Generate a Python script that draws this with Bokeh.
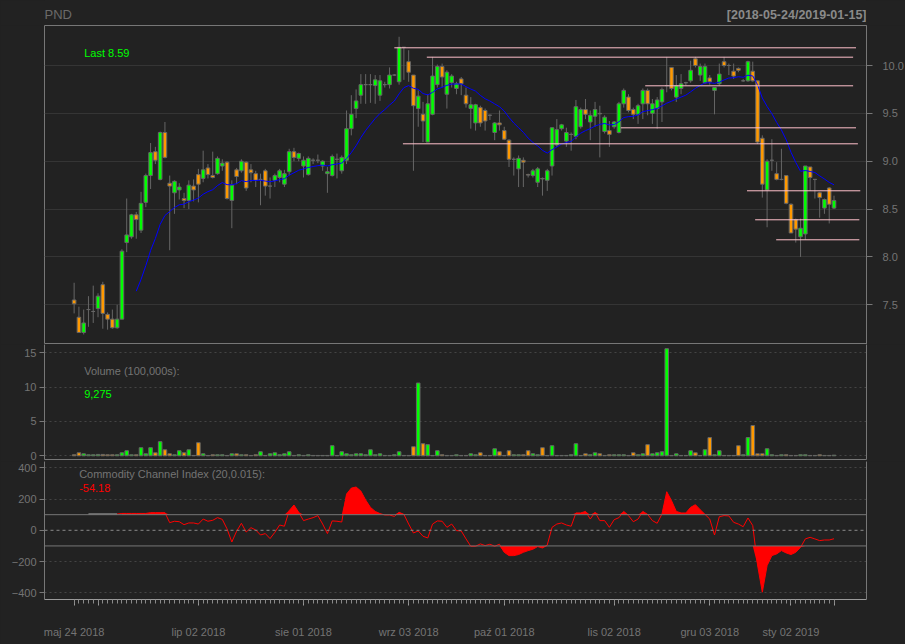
import numpy as np
from bokeh.plotting import figure
from bokeh.layouts import column
from bokeh.models import (Range1d, FixedTicker, Label, Span, LinearAxis,
                          PrintfTickFormatter, GlobalInlineStyleSheet)
from bokeh.embed import file_html
from bokeh.resources import INLINE

symbol = "PND"
date_range = "[2018-05-24/2019-01-15]"

opens = [7.55, 7.37, 7.21, 7.45, 7.43, 7.46, 7.71, 7.40, 7.35, 7.26,
         7.35, 8.15, 8.21, 8.44, 8.28, 8.57, 8.85, 9.10, 8.81, 9.30,
         8.77, 8.67, 8.70, 8.61, 8.59, 8.74, 8.86, 8.82, 8.93, 8.85,
         8.87, 8.95, 8.99, 8.59, 8.91, 8.90, 8.99, 8.91, 8.87, 8.81,
         8.90, 8.74, 8.80, 8.83, 8.76, 8.89, 9.10, 9.03, 8.95, 8.86,
         9.01, 9.01, 8.95, 8.87, 8.85, 9.02, 8.90, 9.01, 9.34, 9.55,
         9.69, 9.80, 9.80, 9.79, 9.69, 9.80, 9.80, 9.90, 9.83, 10.19,
         10.04, 9.90, 9.55, 9.49, 9.20, 9.49, 9.80, 9.99, 9.70, 9.82,
         9.76, 9.86, 9.69, 9.55, 9.40, 9.56, 9.53, 9.48, 9.30, 9.40,
         9.32, 9.22, 9.02, 8.92, 9.01, 8.86, 8.85, 8.78, 8.82, 8.80,
         8.95, 9.17, 9.34, 9.21, 9.28, 9.26, 9.36, 9.54, 9.41, 9.47,
         9.50, 9.31, 9.32, 9.36, 9.30, 9.60, 9.67, 9.54, 9.49, 9.60,
         9.74, 9.50, 9.55, 9.62, 9.79, 9.98, 9.67, 9.76, 9.82, 9.84,
         10.07, 9.90, 9.82, 9.87, 9.74, 9.81, 10.04, 10.00, 9.94, 9.97,
         9.84, 9.84, 9.94, 9.84, 9.24, 8.70, 9.01, 8.87, 8.81, 8.85,
         8.55, 8.39, 8.21, 8.24, 8.94, 8.81, 8.67, 8.51, 8.72, 8.51]
highs = [7.73, 7.48, 7.45, 7.59, 7.70, 7.62, 7.74, 7.42, 7.45, 7.50,
         8.08, 8.61, 8.45, 8.47, 8.68, 8.87, 9.19, 9.15, 9.31, 9.41,
         8.85, 8.80, 8.77, 8.67, 8.80, 8.81, 8.92, 9.11, 8.97, 9.10,
         9.05, 9.02, 9.00, 8.80, 8.93, 9.02, 9.00, 8.97, 8.90, 8.87,
         8.92, 8.83, 8.87, 8.92, 8.91, 9.13, 9.14, 9.09, 9.05, 9.05,
         9.03, 9.07, 9.01, 8.94, 9.07, 9.08, 9.06, 9.53, 9.69, 9.75,
         9.91, 9.91, 9.91, 9.90, 9.90, 9.83, 9.98, 9.91, 10.30, 10.19,
         10.16, 9.90, 9.74, 9.62, 9.70, 10.09, 10.01, 10.02, 9.95, 9.91,
         9.83, 9.88, 9.77, 9.67, 9.60, 9.58, 9.55, 9.49, 9.41, 9.53,
         9.36, 9.23, 9.04, 9.06, 9.04, 8.87, 8.92, 8.94, 8.83, 8.92,
         9.35, 9.44, 9.39, 9.35, 9.30, 9.64, 9.56, 9.65, 9.53, 9.62,
         9.58, 9.48, 9.42, 9.42, 9.62, 9.76, 9.70, 9.56, 9.60, 9.76,
         9.76, 9.65, 9.67, 9.77, 10.09, 9.98, 9.90, 9.91, 9.83, 10.05,
         10.09, 10.02, 10.02, 9.90, 9.77, 10.02, 10.09, 10.02, 10.02, 9.98,
         9.86, 10.05, 10.04, 9.84, 9.27, 9.02, 9.23, 8.99, 9.13, 8.85,
         8.56, 8.40, 8.40, 8.95, 8.94, 8.81, 8.68, 8.61, 8.73, 8.64]
lows = [7.41, 7.21, 7.19, 7.27, 7.31, 7.37, 7.25, 7.24, 7.25, 7.25,
        7.35, 8.05, 8.19, 8.19, 8.25, 8.52, 8.71, 8.97, 8.80, 9.03,
        8.07, 8.45, 8.60, 8.51, 8.50, 8.58, 8.57, 8.78, 8.82, 8.82,
        8.86, 8.90, 8.60, 8.30, 8.76, 8.88, 8.69, 8.78, 8.73, 8.54,
        8.64, 8.61, 8.73, 8.78, 8.73, 8.85, 9.00, 9.00, 8.83, 8.85,
        8.97, 8.98, 8.90, 8.67, 8.84, 8.82, 8.87, 8.97, 9.27, 9.45,
        9.60, 9.60, 9.61, 9.60, 9.63, 9.77, 9.76, 9.89, 9.80, 9.85,
        9.83, 8.90, 9.36, 9.20, 9.20, 9.48, 9.77, 9.77, 9.55, 9.77,
        9.70, 9.69, 9.56, 9.34, 9.32, 9.36, 9.32, 9.43, 9.22, 9.32,
        9.22, 8.94, 8.85, 8.73, 8.73, 8.83, 8.83, 8.73, 8.64, 8.69,
        8.85, 9.15, 9.32, 9.15, 9.11, 9.23, 9.34, 9.44, 9.22, 9.36,
        9.04, 9.29, 9.15, 9.34, 9.29, 9.56, 9.51, 9.44, 9.39, 9.44,
        9.48, 9.39, 9.34, 9.41, 9.72, 9.74, 9.62, 9.70, 9.79, 9.82,
        9.98, 9.84, 9.81, 9.80, 9.49, 9.79, 9.98, 9.90, 9.86, 9.93,
        9.83, 9.83, 9.83, 9.18, 8.62, 8.31, 8.90, 8.80, 8.80, 8.55,
        8.25, 8.15, 8.00, 8.18, 8.69, 8.61, 8.41, 8.45, 8.35, 8.50]
closes = [7.51, 7.21, 7.31, 7.45, 7.43, 7.59, 7.41, 7.35, 7.26, 7.35,
          8.06, 8.23, 8.44, 8.39, 8.56, 8.85, 9.09, 9.01, 9.30, 9.04,
          8.74, 8.79, 8.73, 8.59, 8.75, 8.70, 8.76, 8.91, 8.86, 8.83,
          9.03, 8.98, 8.61, 8.75, 8.84, 9.00, 8.72, 8.88, 8.80, 8.81,
          8.74, 8.74, 8.85, 8.90, 8.87, 9.10, 9.04, 9.08, 9.01, 9.03,
          9.01, 9.01, 9.00, 8.89, 9.05, 9.02, 9.04, 9.34, 9.49, 9.63,
          9.80, 9.80, 9.80, 9.85, 9.84, 9.80, 9.90, 9.90, 10.19, 10.19,
          9.93, 9.58, 9.68, 9.42, 9.60, 9.89, 9.99, 9.88, 9.93, 9.89,
          9.81, 9.81, 9.60, 9.59, 9.59, 9.40, 9.42, 9.48, 9.40, 9.38,
          9.23, 9.02, 9.02, 9.03, 8.99, 8.855, 8.90, 8.92, 8.815, 8.90,
          9.35, 9.33, 9.38, 9.30, 9.28, 9.57, 9.54, 9.49, 9.48, 9.54,
          9.495, 9.46, 9.28, 9.41, 9.60, 9.74, 9.53, 9.49, 9.58, 9.74,
          9.60, 9.60, 9.64, 9.75, 9.79, 9.76, 9.79, 9.81, 9.82, 9.95,
          10.00, 9.99, 9.99, 9.83, 9.77, 9.91, 10.00, 10.00, 9.89, 9.95,
          9.84, 10.04, 9.84, 9.20, 8.76, 9.00, 9.01, 8.81, 8.81, 8.56,
          8.25, 8.29, 8.30, 8.95, 8.83, 8.81, 8.62, 8.60, 8.55, 8.59]
# volume in 100,000s
volume = [0.15, 0.44, 0.29, 0.15, 0.15, 0.20, 0.20, 0.15, 0.15, 0.15,
          0.44, 0.74, 0.15, 0.15, 1.18, 0.29, 1.18, 0.44, 2.06, 0.88,
          0.29, 0.15, 0.74, 0.44, 0.88, 0.05, 1.91, 0.29, 0.05, 0.15,
          0.15, 0.15, 0.05, 0.29, 0.29, 0.15, 0.15, 0.05, 0.15, 0.59,
          0.05, 0.29, 0.44, 0.15, 0.29, 0.59, 0.05, 0.15, 0.05, 0.15,
          0.05, 0.05, 0.05, 0.05, 1.47, 0.05, 0.59, 0.29, 0.15, 0.29,
          0.29, 0.15, 0.88, 0.15, 0.29, 0.05, 0.05, 0.15, 0.59, 0.05,
          0.05, 1.32, 10.60, 1.76, 1.62, 0.05, 0.74, 0.15, 0.05, 0.05,
          0.15, 0.05, 0.05, 0.29, 0.15, 0.44, 0.05, 0.05, 1.03, 0.59,
          0.05, 0.74, 0.15, 0.15, 0.15, 0.74, 0.29, 0.15, 1.18, 0.05,
          1.47, 0.05, 0.05, 0.05, 0.15, 1.76, 0.05, 0.29, 0.15, 0.44,
          0.29, 0.05, 0.15, 0.15, 0.15, 0.15, 0.05, 0.44, 0.15, 0.29,
          1.62, 0.29, 0.44, 0.59, 15.60, 0.05, 0.29, 0.05, 0.05, 0.74,
          0.44, 0.05, 0.88, 2.65, 0.15, 0.74, 0.05, 0.05, 0.05, 1.47,
          0.15, 2.65, 4.41, 0.29, 0.29, 1.03, 0.15, 0.05, 0.15, 0.15,
          0.05, 0.05, 0.15, 0.15, 0.05, 0.05, 0.15, 0.05, 0.05, 0.09275]
cci = [None, None, None, 104, 104, 104, 104, 104, 104, 104,
       108, 108, 108, 108, 108, 108, 113, 113, 113, 113,
       49, 58, 55, 36, 47, 47, 40, 72, 58, 64,
       81, 70, 9, -75, -6, 45, -11, 17, 2, -30,
       -21, -53, -13, 34, 26, 126, 162, 115, 62, 72,
       81, 94, 40, -21, 60, 58, 53, 232, 270, 277,
       251, 194, 147, 121, 107, 98, 98, 89, 115, 102,
       40, -17, -4, -38, -49, 40, 60, 58, 19, 40,
       -2, -4, -55, -102, -102, -87, -98, -89, -102, -89,
       -141, -162, -162, -155, -141, -130, -121, -104, -113, -94,
       19, 40, 47, 34, 26, 111, 111, 121, 72, 115,
       62, 62, 19, 68, 81, 121, 94, 55, 72, 121,
       102, 62, 45, 104, 247, 190, 121, 111, 111, 147,
       164, 132, 102, 72, -30, 87, 94, 92, 51, 40,
       23, 79, 30, -222, -396, -226, -162, -151, -130, -145,
       -155, -141, -109, -55, -45, -55, -66, -62, -62, -54.18]

month_tick_idx = [0, 5, 26, 48, 70, 90, 113, 133, 150, 159]
month_tick_labels = ["maj 24 2018", "", "lip 02 2018", "sie 01 2018", "wrz 03 2018",
                     "paź 01 2018", "lis 02 2018", "gru 03 2018", "sty 02 2019", ""]

line_levels = [10.185, 10.087, 9.788, 9.349, 9.182, 8.691, 8.388, 8.179]
line_start = [67.0, 73.8, 119.5, 114.4, 68.8, 140.8, 142.5, 146.9]
line_end = [163.6, 163.0, 163.0, 163.6, 164.0, 164.5, 164.3, 164.3]

price_ticks = [7.5, 8.0, 8.5, 9.0, 9.5, 10.0]
volume_ticks = [0, 5, 10, 15]
cci_ticks = [-400, -200, 0, 200, 400]
cci_grid = [-400, -200, 200, 400]
ema_n = 14

# ---------------------------------------------------------------
BG = "#222222"
FRAME = "#777777"
TXT = "#747474"
FONT = "Liberation Sans"
UP = "#00FF00"
DN = "#FF9900"
BORDER = "#666666"
FW = 822          # frame width
BL, BR = 44, 39   # left / right borders

N = len(closes)
idx = np.arange(N)
o = np.array(opens, dtype=float)
h = np.array(highs, dtype=float)
l = np.array(lows, dtype=float)
c = np.array(closes, dtype=float)
vol = np.array(volume, dtype=float)
cc = np.array([np.nan if v is None else v for v in cci], dtype=float)
colors = [UP if c[i] >= o[i] else DN for i in range(N)]

ema = np.full(N, np.nan)
ema[ema_n - 1] = c[:ema_n].mean()
k = 2.0 / (ema_n + 1)
for i in range(ema_n, N):
    ema[i] = ema[i - 1] + k * (c[i] - ema[i - 1])

xr = Range1d(-6.2, 165.8)


def style_axis(ax):
    ax.axis_line_color = FRAME
    ax.major_tick_line_color = FRAME
    ax.major_tick_out = 5
    ax.major_tick_in = 0
    ax.minor_tick_line_color = None
    ax.minor_tick_out = 0
    ax.minor_tick_in = 0
    ax.major_label_text_color = TXT
    ax.major_label_text_font = FONT
    ax.major_label_text_font_size = "11px"
    ax.major_label_standoff = 3


def line_axis():
    return LinearAxis(ticker=FixedTicker(ticks=[]), axis_line_color=FRAME,
                      major_tick_out=0, major_tick_in=0, minor_tick_out=0,
                      minor_tick_in=0, major_label_standoff=0)


def make_fig(fh, ylo, yhi, top=0, bottom=0, xloc=None, yloc="left", outline=FRAME):
    p = figure(frame_width=FW, frame_height=fh, x_range=xr, y_range=Range1d(ylo, yhi),
               output_backend="svg", toolbar_location=None,
               x_axis_location=xloc, y_axis_location=yloc,
               min_border_left=BL, min_border_right=BR,
               min_border_top=top, min_border_bottom=bottom,
               background_fill_color=BG, border_fill_color=BG,
               outline_line_color=outline)
    p.xgrid.visible = False
    for ax in p.yaxis:
        style_axis(ax)
    return p


# ---------------- title strip ----------------
p0 = make_fig(25, 0, 25, yloc=None, outline=None)
p0.ygrid.visible = False
p0.add_layout(Label(x=xr.start, y=11, text=symbol, text_font=FONT,
                    text_font_size="13px", text_color="#6a6a6a",
                    text_baseline="middle"))
p0.add_layout(Label(x=xr.end, y=10.5, text=date_range, text_font=FONT,
                    text_font_size="12.5px", text_font_style="bold",
                    text_color="#8a8a8a", text_align="right",
                    text_baseline="middle"))

# ---------------- main price panel ----------------
p1 = make_fig(319, 7.085, 10.418, yloc="right")
p1.yaxis.ticker = FixedTicker(ticks=price_ticks)
p1.yaxis.formatter = PrintfTickFormatter(format="%.1f")
p1.yaxis.major_tick_out = 6
p1.yaxis.major_label_standoff = 10
p1.ygrid.ticker = FixedTicker(ticks=price_ticks)
p1.ygrid.grid_line_color = "#353535"

p1.segment(x0=idx, y0=l, x1=idx, y1=h, line_color=BORDER, line_width=1)
p1.vbar(x=idx, width=0.75, top=np.maximum(o, c), bottom=np.minimum(o, c),
        fill_color=colors, line_color=BORDER, line_width=1)
p1.line(idx, ema, line_color="#0000FF", line_width=1)
p1.segment(x0=line_start, y0=line_levels, x1=line_end, y1=line_levels,
           line_color="#FFC0CB", line_width=1)
p1.add_layout(Label(x=2.1, y=10.13, text="Last %.2f" % c[-1], text_font=FONT,
                    text_font_size="11px", text_color=UP, text_baseline="middle"))

# ---------------- volume panel ----------------
p2 = make_fig(115, -0.54, 16.21, bottom=2, outline=None)
p2.yaxis.ticker = FixedTicker(ticks=volume_ticks)
p2.ygrid.ticker = FixedTicker(ticks=volume_ticks)
p2.ygrid.grid_line_color = "#444444"
p2.ygrid.grid_line_dash = "2 3"
p2.add_layout(line_axis(), "right")
p2.add_layout(line_axis(), "below")
p2.vbar(x=idx, width=0.75, top=vol, bottom=0, fill_color=colors,
        line_color=BORDER, line_width=1)
p2.add_layout(Label(x=2.1, y=12.42, text="Volume (100,000s):", text_font=FONT,
                    text_font_size="11px", text_color=TXT, text_baseline="middle"))
p2.add_layout(Label(x=2.1, y=9.07, text="{:,.0f}".format(vol[-1] * 1e5), text_font=FONT,
                    text_font_size="11px", text_color=UP, text_baseline="middle"))

# ---------------- CCI panel ----------------
p3 = make_fig(138, -442.9, 440.3, bottom=45, xloc="below", outline=None)
p3.yaxis.ticker = FixedTicker(ticks=cci_ticks)
p3.ygrid.ticker = FixedTicker(ticks=cci_grid)
p3.ygrid.grid_line_color = "#444444"
p3.ygrid.grid_line_dash = "2 3"
p3.add_layout(line_axis(), "right")
xa = p3.xaxis[0]
xa.ticker = FixedTicker(ticks=month_tick_idx, minor_ticks=list(range(N)))
xa.major_label_overrides = {t: s for t, s in zip(month_tick_idx, month_tick_labels)}
xa.axis_line_color = "#9a9a9a"
xa.major_tick_line_color = "#9a9a9a"
xa.minor_tick_line_color = "#8a8a8a"
xa.major_tick_out = 6
xa.major_tick_in = 0
xa.minor_tick_out = 4
xa.minor_tick_in = 0
xa.major_label_text_color = TXT
xa.major_label_text_font = FONT
xa.major_label_text_font_size = "11px"
xa.major_label_standoff = 20

p3.add_layout(Span(location=100, dimension="width", line_color=FRAME, line_width=1))
p3.add_layout(Span(location=-100, dimension="width", line_color=FRAME, line_width=1))
p3.add_layout(Span(location=0, dimension="width", line_color="#8a8a8a",
                   line_width=1, line_dash="3 3"))

fill_from = 10
xf = idx[fill_from:]
cf = cc[fill_from:]
p3.varea(x=xf, y1=np.full(len(xf), 100.0), y2=np.maximum(cf, 100.0),
         fill_color="#FF0000")
p3.varea(x=xf, y1=np.minimum(cf, -100.0), y2=np.full(len(xf), -100.0),
         fill_color="#FF0000")
lead = (idx >= 3) & (idx <= 9)
p3.line(idx[lead], cc[lead], line_color="#808080", line_width=1.5)
p3.line(idx[9:], cc[9:], line_color="#FF0000", line_width=1)

p3.add_layout(Label(x=1.05, y=363, text="Commodity Channel Index (20,0.015):",
                    text_font=FONT, text_font_size="11px", text_color=TXT,
                    text_baseline="middle"))
p3.add_layout(Label(x=1.05, y=271, text="%.2f" % cc[-1], text_font=FONT,
                    text_font_size="11px", text_color="#FF0000",
                    text_baseline="middle"))

layout = column(p0, p1, p2, p3, spacing=0)
layout.stylesheets = [GlobalInlineStyleSheet(css="html, body { background-color: #222222; }")]

open("out.html", "w").write(file_html(layout, INLINE))
